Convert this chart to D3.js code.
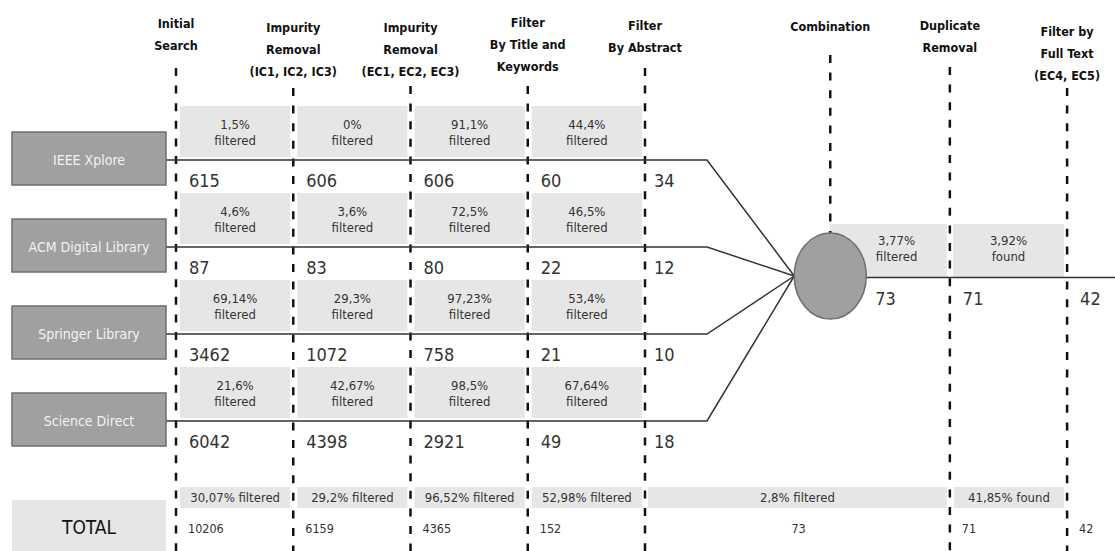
<!DOCTYPE html>
<html>
<head>
<meta charset="utf-8">
<script src="https://d3js.org/d3.v7.min.js"></script>
<style>
  body { margin: 0; background: #fff; }
  svg { display: block; }
  text { font-family: "Liberation Sans Narrow", "Arial Narrow", "DejaVu Sans Condensed", sans-serif; }
</style>
</head>
<body>
<svg id="chart" width="1115" height="551"></svg>
<script>
// stage headers (one array entry per line)
var stageHeaders = [
    ["Initial", "Search"],
    ["Impurity", "Removal", "(IC1, IC2, IC3)"],
    ["Impurity", "Removal", "(EC1, EC2, EC3)"],
    ["Filter", "By Title and", "Keywords"],
    ["Filter", "By Abstract"],
    ["Combination"],
    ["Duplicate", "Removal"],
    ["Filter by", "Full Text", "(EC4, EC5)"]
];
var sources = ["IEEE Xplore", "ACM Digital Library", "Springer Library", "Science Direct"];

// counts after each of the first five stages, per source
var ieeeCounts = [615, 606, 606, 60, 34];
var acmCounts = [87, 83, 80, 22, 12];
var springerCounts = [3462, 1072, 758, 21, 10];
var scienceCounts = [6042, 4398, 2921, 49, 18];

// percent filtered between stages, per source
var ieeePct = [1.5, 0, 91.1, 44.4];
var acmPct = [4.6, 3.6, 72.5, 46.5];
var springerPct = [69.14, 29.3, 97.23, 53.4];
var sciencePct = [21.6, 42.67, 98.5, 67.64];

// after combination
var combinedCounts = [73, 71, 42];
var combinedPct = [["3,77%", "filtered"], ["3,92%", "found"]];

// TOTAL row
var totalCounts = [10206, 6159, 4365, 152, 73, 71, 42];
var totalPct = ["30,07% filtered", "29,2% filtered", "96,52% filtered", "52,98% filtered", "2,8% filtered", "41,85% found"];

var counts = [ieeeCounts, acmCounts, springerCounts, scienceCounts];
var pcts = [ieeePct, acmPct, springerPct, sciencePct];

var svg = d3.select("#chart");

// stage slot -> x of dashed line
var slots = [0, 1, 2, 3, 4, 5.58, 6.6, 7.6];
var x = d3.scaleLinear().domain([0, 4]).range([176, 645]);
var sx = function(i) { return x(slots[i]); };
// source index -> y of flow line
var y = d3.scaleLinear().domain([0, 3]).range([160, 421]);

var fmtPct = function(v) { return String(v).replace(".", ",") + "%"; };

var grayFill = "#e6e6e6";
var circ = { cx: sx(5), cy: 276, rx: 36, ry: 43 };
var joinX = 707;

// ---- gray percent boxes (behind everything)
pcts.forEach(function(row, r) {
    row.forEach(function(v, i) {
        var x0 = sx(i) + 4, x1 = sx(i + 1) - 3;
        svg.append("rect")
            .attr("x", x0).attr("y", y(r) - 54)
            .attr("width", x1 - x0).attr("height", 51)
            .attr("fill", grayFill);
        var t = svg.append("text")
            .attr("x", (x0 + x1) / 2).attr("y", y(r) - 31)
            .attr("text-anchor", "middle")
            .attr("font-size", 13).attr("fill", "#333");
        t.append("tspan").attr("x", (x0 + x1) / 2).text(fmtPct(v));
        t.append("tspan").attr("x", (x0 + x1) / 2).attr("dy", 16).text("filtered");
    });
});

// combination boxes
combinedPct.forEach(function(p, i) {
    var x0 = sx(5 + i) + (i == 0 ? 0 : 3), x1 = sx(6 + i) - 3;
    svg.append("rect")
        .attr("x", x0).attr("y", 224)
        .attr("width", x1 - x0).attr("height", 53)
        .attr("fill", grayFill);
    var cx = i == 0 ? (x0 + x1) / 2 + 8 : (x0 + x1) / 2;
    var t = svg.append("text")
        .attr("x", cx).attr("y", 245)
        .attr("text-anchor", "middle")
        .attr("font-size", 13).attr("fill", "#333");
    t.append("tspan").attr("x", cx).text(p[0]);
    t.append("tspan").attr("x", cx).attr("dy", 16).text(p[1]);
});

// TOTAL percent boxes
var totalSpans = [[0, 1], [1, 2], [2, 3], [3, 4], [4, 6], [6, 7]];
totalPct.forEach(function(p, i) {
    var a = totalSpans[i][0], b = totalSpans[i][1];
    var x0 = sx(a) + (a == 4 ? 3 : 4), x1 = sx(b) - 3;
    svg.append("rect")
        .attr("x", x0).attr("y", 487)
        .attr("width", x1 - x0).attr("height", 21)
        .attr("fill", grayFill);
    svg.append("text")
        .attr("x", (x0 + x1) / 2).attr("y", 502)
        .attr("text-anchor", "middle")
        .attr("font-size", 13).attr("fill", "#333")
        .text(p);
});

// ---- dashed stage lines
var dashTop = [68, 88, 86, 86, 68, 55, 67, 88];
stageHeaders.forEach(function(h, i) {
    svg.append("line")
        .attr("x1", sx(i)).attr("x2", sx(i))
        .attr("y1", dashTop[i]).attr("y2", i == 5 ? circ.cy - circ.ry : 551)
        .attr("stroke", "#111").attr("stroke-width", 2.5)
        .attr("stroke-dasharray", "8,9.6");
});

// headers
var headTop = [28, 32, 32, 27, 30, 31, 30, 36];
stageHeaders.forEach(function(h, i) {
    var t = svg.append("text")
        .attr("x", sx(i)).attr("y", headTop[i])
        .attr("text-anchor", "middle")
        .attr("font-size", 12.5).attr("font-weight", "bold").attr("fill", "#111");
    h.forEach(function(line, k) {
        t.append("tspan").attr("x", sx(i)).attr("dy", k == 0 ? 0 : 22).text(line);
    });
});

// ---- flow lines into the combination circle
sources.forEach(function(s, r) {
    svg.append("path")
        .attr("d", d3.line()([[166, y(r)], [joinX, y(r)], [circ.cx - circ.rx, circ.cy]]))
        .attr("fill", "none").attr("stroke", "#333").attr("stroke-width", 1.5);
});
svg.append("line")
    .attr("x1", circ.cx + circ.rx).attr("x2", 1115)
    .attr("y1", circ.cy + 1.5).attr("y2", circ.cy + 1.5)
    .attr("stroke", "#333").attr("stroke-width", 1.5);

svg.append("ellipse")
    .attr("cx", circ.cx).attr("cy", circ.cy)
    .attr("rx", circ.rx).attr("ry", circ.ry)
    .attr("fill", "#a0a0a0").attr("stroke", "#6e6e6e").attr("stroke-width", 1.5);

// ---- source boxes
sources.forEach(function(s, r) {
    svg.append("rect")
        .attr("x", 12).attr("y", y(r) - 28)
        .attr("width", 154).attr("height", 53)
        .attr("fill", "#a0a0a0").attr("stroke", "#6e6e6e").attr("stroke-width", 1.5);
    svg.append("text")
        .attr("x", 89).attr("y", y(r) + 5)
        .attr("text-anchor", "middle")
        .attr("font-size", 14).attr("fill", "#f2f2f2")
        .text(s);
});

// counts
counts.forEach(function(row, r) {
    row.forEach(function(v, i) {
        svg.append("text")
            .attr("x", sx(i) + (i == 4 ? 9 : 13)).attr("y", y(r) + 27)
            .attr("font-size", 18).attr("fill", "#333")
            .text(v);
    });
});
combinedCounts.forEach(function(v, i) {
    svg.append("text")
        .attr("x", i == 0 ? circ.cx + 45 : sx(5 + i) + 13).attr("y", 305)
        .attr("font-size", 18).attr("fill", "#333")
        .text(v);
});

// TOTAL row
svg.append("rect")
    .attr("x", 12).attr("y", 500)
    .attr("width", 154).attr("height", 60)
    .attr("fill", grayFill);
svg.append("text")
    .attr("x", 89).attr("y", 534)
    .attr("text-anchor", "middle")
    .attr("font-size", 19).attr("fill", "#111")
    .text("TOTAL");

var totalSlots = [0, 1, 2, 3, 4, 6, 7];
totalCounts.forEach(function(v, i) {
    var s = totalSlots[i];
    var xx = i == 4 ? (sx(4) + sx(6)) / 2 - 6 : sx(s) + 12;
    svg.append("text")
        .attr("x", xx).attr("y", 533)
        .attr("font-size", 12.5).attr("fill", "#333")
        .text(v);
});
</script>
</body>
</html>
